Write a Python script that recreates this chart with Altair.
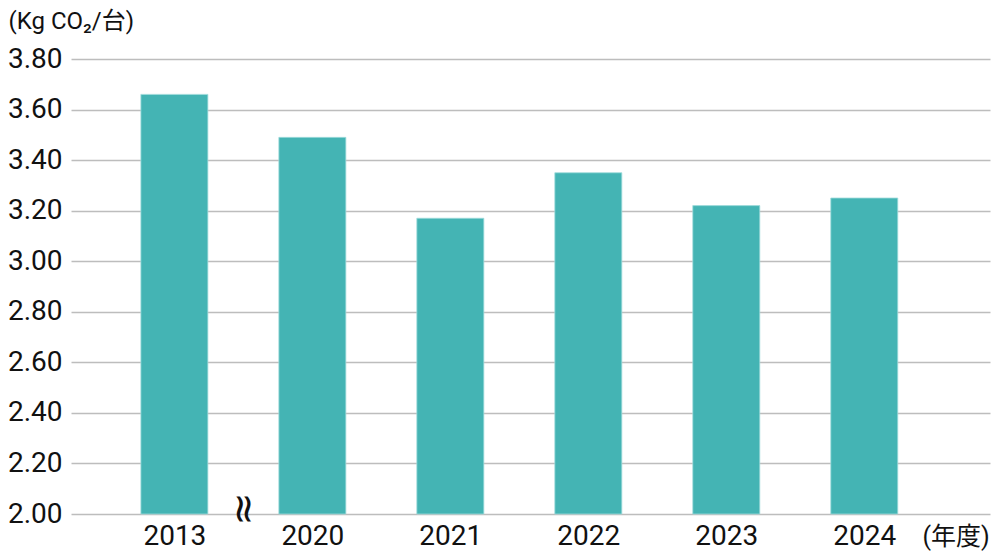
import altair as alt
import pandas as pd

years = ["2013", "2020", "2021", "2022", "2023", "2024"]
positions = [0, 1, 2, 3, 4, 5]
values = [3.66, 3.49, 3.17, 3.35, 3.22, 3.25]
y_ticks = [2.0, 2.2, 2.4, 2.6, 2.8, 3.0, 3.2, 3.4, 3.6, 3.8]
break_pos = [0.5]

FONT = "Roboto, Noto Sans CJK JP, sans-serif"
BAR = "#44b4b4"

df = pd.DataFrame({"pos": positions, "year": years, "value": values})
brk = pd.DataFrame({"pos": break_pos, "label": ["≈"]})

label_expr = "[" + ",".join(f"'{y}'" for y in years) + "][datum.value]"

xscale = alt.Scale(domain=[-0.713, 5.875], nice=False, zero=False)
yscale = alt.Scale(domain=[2.0, 3.8], nice=False, zero=False)

bars = alt.Chart(df).mark_bar(size=67, color=BAR, stroke="#9fdcdc", strokeWidth=0.8).encode(
    x=alt.X(
        "pos:Q",
        scale=xscale,
        axis=alt.Axis(
            values=positions,
            labelExpr=label_expr,
            grid=False,
            domain=False,
            ticks=False,
            tickSize=0,
            labelFont=FONT,
            labelFontSize=28,
            labelColor="#111111",
            labelBaseline="alphabetic",
            labelPadding=30,
            title="(年度)",
            titleFont=FONT,
            titleFontSize=25,
            titleFontWeight="normal",
            titleColor="#111111",
            titleAlign="left",
            titleBaseline="alphabetic",
            titleX=851,
            titleY=30,
        ),
    ),
    y=alt.Y(
        "value:Q",
        scale=yscale,
        axis=alt.Axis(
            values=y_ticks,
            format=".2f",
            grid=True,
            gridColor="#bdbdbd",
            gridWidth=1.5,
            domain=False,
            ticks=False,
            tickSize=0,
            labelFont=FONT,
            labelFontSize=28,
            labelColor="#111111",
            labelPadding=9,
            title="(Kg CO₂/台)",
            titleFont=FONT,
            titleFontSize=24,
            titleFontWeight="normal",
            titleColor="#111111",
            titleAngle=0,
            titleAlign="left",
            titleBaseline="alphabetic",
            titleX=-63,
            titleY=-31,
        ),
    ),
    y2=alt.datum(2.0),
)

breaks = alt.Chart(brk).mark_text(
    font="DejaVu Sans", fontSize=40, angle=90, align="center", baseline="middle",
    color="#111111", dx=-5,
).encode(
    x=alt.X("pos:Q", scale=xscale),
    y=alt.Y("value:Q", scale=yscale),
    text="label:N",
).transform_calculate(value="2.0")

chart = alt.layer(bars, breaks).properties(
    width=919,
    height=455,
    autosize=alt.AutoSizeParams(type="none"),
    padding={"left": 63, "top": 51, "right": 2, "bottom": 37},
).configure_view(stroke=None)

chart.save("out.html", embed_options={"renderer": "svg", "actions": False})
